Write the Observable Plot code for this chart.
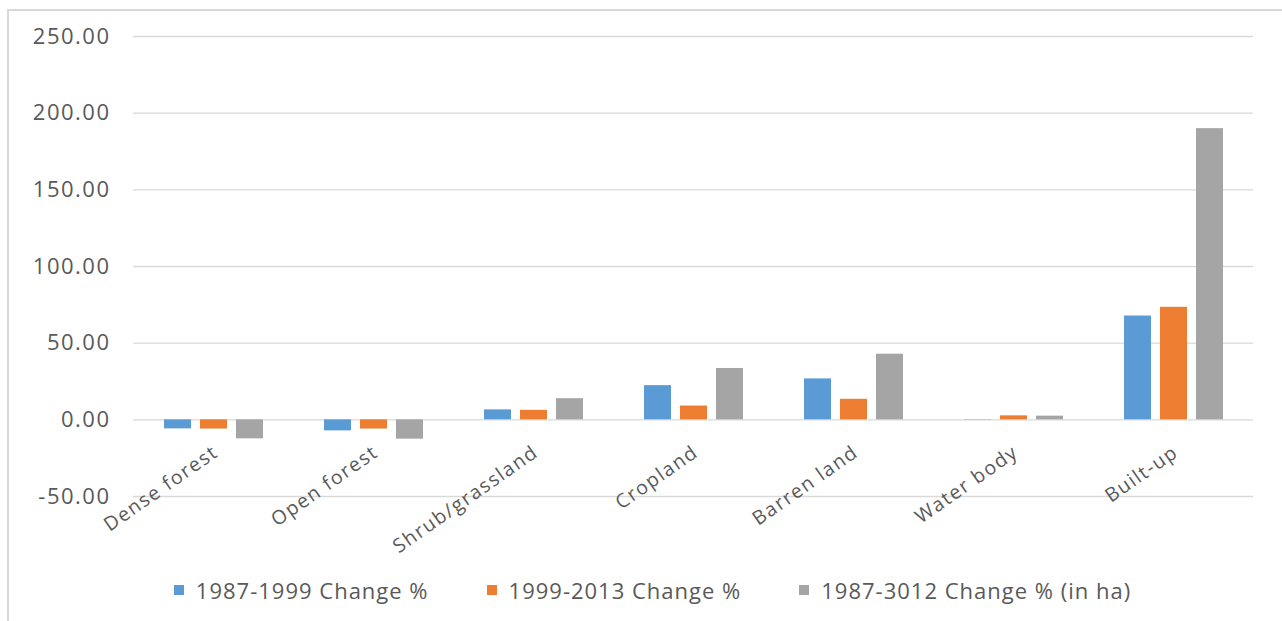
<!DOCTYPE html>
<html>
<head>
<meta charset="utf-8">
<script src="https://cdn.jsdelivr.net/npm/d3@7"></script>
<script src="https://cdn.jsdelivr.net/npm/@observablehq/plot@0.6"></script>
<style>
  html, body { margin: 0; padding: 0; background: #fff; }
  body { position: relative; width: 1282px; height: 621px; overflow: hidden; font-family: "Open Sans", sans-serif; }
  #frame { position: absolute; left: 7px; top: 9px; width: 1300px; height: 640px; border: 2px solid #d9d9d9; box-sizing: border-box; }
  #chart { position: absolute; left: 0; top: 0; }
  #legend { position: absolute; left: 0; top: 575px; width: 1305px; display: flex; justify-content: center; gap: 58px;
            font-size: 22px; letter-spacing: 1px; color: #595959; }
  #legend .item { display: flex; align-items: center; }
  #legend .sw { width: 10px; height: 10px; margin-right: 12px; }
</style>
</head>
<body>
<div id="frame"></div>
<div id="chart"></div>
<div id="legend"></div>
<script>
// Land-cover categories and the change (%) recorded for each period
const categories = ["Dense forest", "Open forest", "Shrub/grassland", "Cropland", "Barren land", "Water body", "Built-up"];
const seriesNames = ["1987-1999 Change %", "1999-2013 Change %", "1987-3012 Change % (in ha)"];
const change1987to1999 = [-5.9, -7.2, 6.5, 22.3, 26.7, 0.2, 67.7];
const change1999to2013 = [-6.0, -6.0, 6.2, 9.0, 13.4, 2.6, 73.4];
const change1987to3012 = [-12.4, -12.6, 13.8, 33.5, 42.8, 2.4, 189.9];
const yTicks = [-50, 0, 50, 100, 150, 200, 250];
const colors = ["#5b9bd5", "#ed7d31", "#a5a5a5"];

const seriesValues = [change1987to1999, change1999to2013, change1987to3012];
const rows = [];
categories.forEach((c, i) => {
  seriesNames.forEach((s, j) => rows.push({category: c, series: s, value: seriesValues[j][i]}));
});

const chart = Plot.plot({
  width: 1282,
  height: 560,
  marginLeft: 130,
  marginRight: 27,
  marginTop: 36,
  marginBottom: 64,
  style: {fontFamily: "Open Sans", fontSize: "22px", color: "#595959", letterSpacing: "1.5px", background: "transparent"},
  fx: {domain: categories, padding: 0, axis: null},
  x: {domain: seriesNames, paddingInner: 0.25, paddingOuter: 0.83, axis: null},
  y: {domain: [-50, 250], axis: null},
  color: {domain: seriesNames, range: colors},
  marks: [
    Plot.gridY(yTicks, {stroke: "#d9d9d9", strokeOpacity: 1, strokeWidth: 1.3}),
    Plot.axisY(yTicks, {tickSize: 0, tickPadding: 23, label: null, tickFormat: d => d.toFixed(2), fontSize: 22}),
    Plot.barY(rows, {fx: "category", x: "series", y: "value", fill: "series"}),
    Plot.text(categories, {
      fx: d => d, y: () => 0, text: d => d,
      rotate: -35, textAnchor: "end", lineAnchor: "top",
      dx: -2, dy: 24, fontSize: 19.5
    })
  ]
});
document.getElementById("chart").appendChild(chart);

// Legend below the chart
const legend = d3.select("#legend");
seriesNames.forEach((s, i) => {
  const item = legend.append("div").attr("class", "item");
  item.append("div").attr("class", "sw").style("background", colors[i]);
  item.append("span").text(s);
});
</script>
</body>
</html>
